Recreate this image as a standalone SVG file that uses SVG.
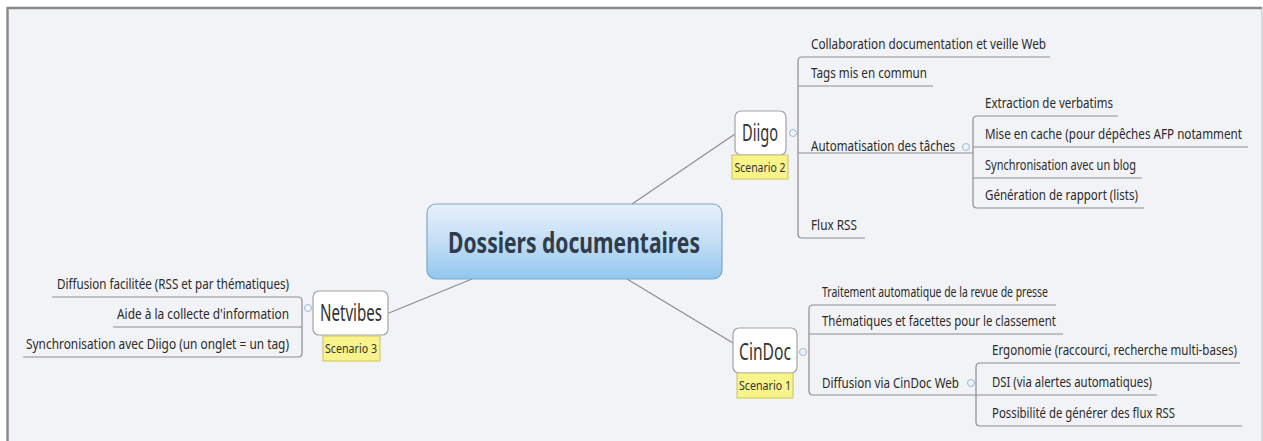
<svg xmlns="http://www.w3.org/2000/svg" width="1263" height="441" viewBox="0 0 1263 441">
<defs>
<linearGradient id="cg" x1="0" y1="0" x2="0" y2="1">
<stop offset="0" stop-color="#e6f1fb"/>
<stop offset="0.5" stop-color="#c3def5"/>
<stop offset="1" stop-color="#93c6ef"/>
</linearGradient>
<style>
.lbl{font-family:"Noto Sans","Open Sans",sans-serif;font-size:14px;fill:#2a2a2a}
.node{fill:#ffffff;stroke:#a3a3a3;stroke-width:1.2}
.ntxt{font-family:"Noto Sans","Open Sans",sans-serif;font-size:23px;fill:#333;text-anchor:middle}
.sc{fill:#f8f48a;stroke:#c9c268;stroke-width:1}
.stxt{font-family:"Noto Sans","Open Sans",sans-serif;font-size:12px;fill:#333;text-anchor:middle}
.ln{fill:none;stroke:#8d8d8d;stroke-width:1.2}
.cc{fill:#eef3f9;stroke:#9fb7d0;stroke-width:1}
</style>
</defs>
<rect x="0" y="0" width="1263" height="441" fill="#ffffff"/>
<rect x="8" y="8" width="1254" height="440" fill="#f2f3f7" stroke="none"/>
<line x1="7" y1="8" x2="1262" y2="8" stroke="#8a8a8a" stroke-width="2.5"/>
<line x1="7.5" y1="7" x2="7.5" y2="441" stroke="#8a8a8a" stroke-width="2.5"/>
<line x1="1262" y1="9" x2="1262" y2="441" stroke="#cfcfd3" stroke-width="1.5"/>

<g id="connectors">
<line class="ln" x1="632" y1="204" x2="735" y2="134"/>
<line class="ln" x1="627" y1="279" x2="733" y2="343"/>
<line class="ln" x1="472" y1="279" x2="389" y2="313"/>
<path class="ln" d="M1050 57 H802 Q798 57 798 61 V234 Q798 238 802 238 H865 M798 86 H933 M798 153 H973"/>
<path class="ln" d="M1118 116 H977 Q973 116 973 120 V204 Q973 208 977 208 H1144 M973 147 H1248 M973 178 H1142"/>
<path class="ln" d="M1056 305 H813 Q809 305 809 309 V391 Q809 395 813 395 H976 M809 334 H1063"/>
<path class="ln" d="M1240 363 H980 Q976 363 976 367 V422 Q976 426 980 426 H1242 M976 395 H1157"/>
<path class="ln" d="M52 297 H298 Q302 297 302 301 V353 Q302 357 298 357 H23 M302 327 H113"/>
<circle class="cc" cx="793" cy="133" r="3.5"/>
<circle class="cc" cx="966" cy="147" r="3.5"/>
<circle class="cc" cx="803" cy="352" r="3.5"/>
<circle class="cc" cx="971" cy="383" r="3.5"/>
<circle class="cc" cx="308" cy="308" r="3.5"/>
</g>

<g id="central">
<rect x="427" y="204" width="295" height="75" rx="9" fill="url(#cg)" stroke="#7fa6c6" stroke-width="1.2"/>
<text x="574" y="253" text-anchor="middle" font-family="'Noto Sans','Open Sans',sans-serif" font-size="29" font-weight="bold" fill="#2e3c4b" textLength="252" lengthAdjust="spacingAndGlyphs">Dossiers documentaires</text>
</g>

<g id="diigo">
<rect class="node" x="735" y="111" width="51" height="44" rx="6"/>
<text class="ntxt" x="760" y="141" textLength="36" lengthAdjust="spacingAndGlyphs">Diigo</text>
<rect class="sc" x="732" y="155" width="56" height="24"/>
<text class="stxt" x="760" y="172" textLength="51" lengthAdjust="spacingAndGlyphs">Scenario 2</text>
</g>
<g id="diigo-children">
<text class="lbl" x="811" y="49" textLength="235" lengthAdjust="spacingAndGlyphs">Collaboration documentation et veille Web</text>
<text class="lbl" x="811" y="78" textLength="116" lengthAdjust="spacingAndGlyphs">Tags mis en commun</text>
<text class="lbl" x="811" y="151" textLength="144" lengthAdjust="spacingAndGlyphs">Automatisation des tâches</text>
<text class="lbl" x="811" y="230" textLength="46" lengthAdjust="spacingAndGlyphs">Flux RSS</text>
</g>
<g id="automatisation-children">
<text class="lbl" x="985" y="108" textLength="128" lengthAdjust="spacingAndGlyphs">Extraction de verbatims</text>
<text class="lbl" x="985" y="139" textLength="257" lengthAdjust="spacingAndGlyphs">Mise en cache (pour dépêches AFP notamment</text>
<text class="lbl" x="985" y="170" textLength="151" lengthAdjust="spacingAndGlyphs">Synchronisation avec un blog</text>
<text class="lbl" x="985" y="200" textLength="153" lengthAdjust="spacingAndGlyphs">Génération de rapport (lists)</text>
</g>

<g id="cindoc">
<rect class="node" x="733" y="328" width="64" height="45" rx="6"/>
<text class="ntxt" x="765" y="360" textLength="52" lengthAdjust="spacingAndGlyphs">CinDoc</text>
<rect class="sc" x="737" y="373" width="56" height="25"/>
<text class="stxt" x="765" y="390" textLength="52" lengthAdjust="spacingAndGlyphs">Scenario 1</text>
</g>
<g id="cindoc-children">
<text class="lbl" x="822" y="297" textLength="226" lengthAdjust="spacingAndGlyphs">Traitement automatique de la revue de presse</text>
<text class="lbl" x="822" y="326" textLength="234" lengthAdjust="spacingAndGlyphs">Thématiques et facettes pour le classement</text>
<text class="lbl" x="822" y="388" textLength="137" lengthAdjust="spacingAndGlyphs">Diffusion via CinDoc Web</text>
</g>
<g id="diffusion-children">
<text class="lbl" x="992" y="355" textLength="245" lengthAdjust="spacingAndGlyphs">Ergonomie (raccourci, recherche multi-bases)</text>
<text class="lbl" x="992" y="387" textLength="160" lengthAdjust="spacingAndGlyphs">DSI (via alertes automatiques)</text>
<text class="lbl" x="992" y="418" textLength="183" lengthAdjust="spacingAndGlyphs">Possibilité de générer des flux RSS</text>
</g>

<g id="netvibes">
<rect class="node" x="313" y="291" width="75" height="44" rx="6"/>
<text class="ntxt" x="351" y="321" textLength="62" lengthAdjust="spacingAndGlyphs">Netvibes</text>
<rect class="sc" x="323" y="336" width="57" height="25"/>
<text class="stxt" x="351" y="353" textLength="52" lengthAdjust="spacingAndGlyphs">Scenario 3</text>
</g>
<g id="netvibes-children">
<text class="lbl" x="289" y="289" text-anchor="end" textLength="232" lengthAdjust="spacingAndGlyphs">Diffusion facilitée (RSS et par thématiques)</text>
<text class="lbl" x="289" y="319" text-anchor="end" textLength="172" lengthAdjust="spacingAndGlyphs">Aide à la collecte d'information</text>
<text class="lbl" x="289" y="349" text-anchor="end" textLength="263" lengthAdjust="spacingAndGlyphs">Synchronisation avec Diigo (un onglet = un tag)</text>
</g>
</svg>
